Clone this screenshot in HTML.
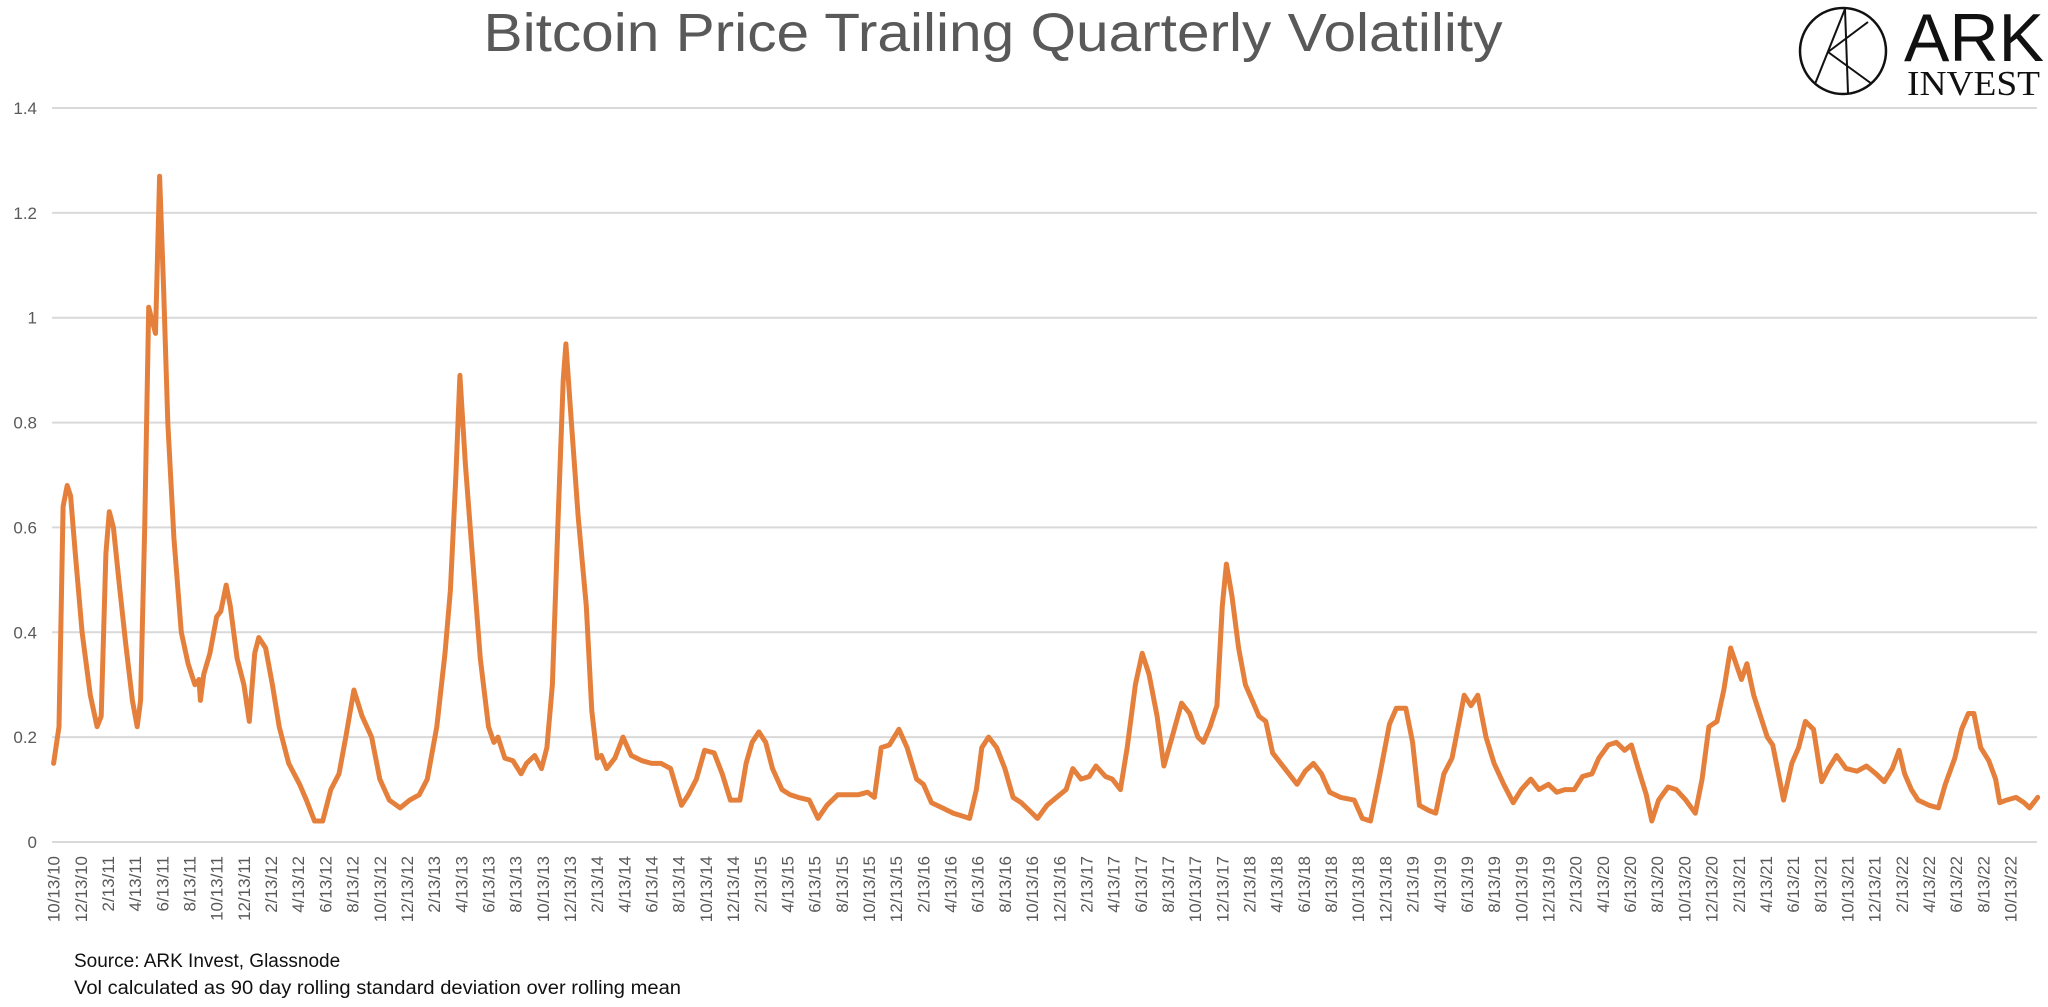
<!DOCTYPE html>
<html>
<head>
<meta charset="utf-8">
<style>
  html,body{margin:0;padding:0;background:#fff;}
  svg{display:block;}
  text{font-family:"Liberation Sans",sans-serif;}
</style>
</head>
<body>
<svg id="chart" width="2048" height="1007" viewBox="0 0 2048 1007" xmlns="http://www.w3.org/2000/svg">
  <rect width="2048" height="1007" fill="#fff"/>
  <text x="993" y="51" text-anchor="middle" font-size="54" fill="#595959" textLength="1019" lengthAdjust="spacingAndGlyphs">Bitcoin Price Trailing Quarterly Volatility</text>
  <g>
    <circle cx="1843" cy="51" r="43" fill="none" stroke="#111" stroke-width="2.5"/>
    <line x1="1815" y1="84" x2="1845" y2="9" stroke="#111" stroke-width="2"/>
    <line x1="1845" y1="9" x2="1848" y2="93" stroke="#111" stroke-width="2"/>
    <line x1="1828" y1="52" x2="1872" y2="84" stroke="#111" stroke-width="2"/>
    <line x1="1828" y1="52" x2="1868" y2="22" stroke="#111" stroke-width="2"/>
    <text x="1904" y="61" font-size="68" fill="#111" textLength="140" lengthAdjust="spacingAndGlyphs">ARK</text>
    <text x="1907" y="95" font-size="35" fill="#111" style="font-family:'Liberation Serif',serif" textLength="133" lengthAdjust="spacingAndGlyphs">INVEST</text>
  </g>
  <g id="grid"></g>
  <g id="yticks"></g>
  <g id="xticks"></g>
  <g id="series"></g>
  <text x="74" y="967" font-size="19" fill="#111">Source: ARK Invest, Glassnode</text>
  <text x="74" y="994" font-size="19" fill="#111" textLength="607" lengthAdjust="spacingAndGlyphs">Vol calculated as 90 day rolling standard deviation over rolling mean</text>
</svg>
<script>
// months since 10/13/2010
const monthOffsets = [0,0.4,0.7,1.0,1.25,1.6,2.1,2.7,3.2,3.5,3.85,4.1,4.4,4.8,5.3,5.8,6.15,6.4,6.7,7.0,7.2,7.5,7.8,8.1,8.4,8.85,9.4,9.9,10.4,10.7,10.8,11.05,11.5,12.0,12.3,12.7,13.0,13.5,14.0,14.4,14.8,15.1,15.6,16.1,16.6,17.3,18.1,18.6,19.2,19.8,20.4,21.0,21.5,22.1,22.7,23.4,24.0,24.7,25.5,26.2,26.9,27.5,28.2,28.8,29.2,29.6,29.9,30.3,30.8,31.4,32.0,32.4,32.7,33.2,33.8,34.4,34.8,35.4,35.9,36.3,36.7,37.1,37.5,37.7,38.1,38.6,39.2,39.6,40.0,40.3,40.7,41.3,41.9,42.5,43.3,44.0,44.7,45.4,46.2,46.7,47.3,47.9,48.6,49.2,49.8,50.5,50.96,51.4,51.9,52.4,52.9,53.6,54.2,54.8,55.6,56.25,56.9,57.7,58.5,59.2,59.9,60.4,60.9,61.5,62.2,62.8,63.5,64.0,64.6,65.4,66.2,66.8,67.4,67.9,68.3,68.8,69.4,70.0,70.6,71.2,71.8,72.4,73.1,73.8,74.5,75.0,75.6,76.2,76.7,77.4,77.9,78.5,79.0,79.6,80.1,80.6,81.2,81.7,82.3,83.0,83.6,84.2,84.6,85.1,85.6,86.0,86.3,86.7,87.2,87.7,88.2,88.7,89.2,89.7,90.3,90.9,91.5,92.1,92.7,93.3,93.9,94.7,95.7,96.3,96.9,97.6,98.3,98.8,99.5,100.0,100.5,101.2,101.7,102.3,102.9,103.5,103.8,104.3,104.8,105.4,106.0,106.7,107.4,108.0,108.7,109.3,110.0,110.6,111.2,111.9,112.5,113.2,113.7,114.4,115.0,115.6,116.1,116.6,117.2,117.6,118.1,118.8,119.4,120.1,120.8,121.3,121.8,122.4,122.9,123.4,123.8,124.2,124.6,125.1,125.6,126.1,126.5,127.0,127.3,127.9,128.4,128.9,129.5,130.1,130.6,131.2,131.9,132.7,133.4,134.1,134.7,135.3,135.8,136.2,136.7,137.2,138.0,138.7,139.2,139.9,140.4,140.9,141.3,141.8,142.4,142.9,143.2,143.7,144.4,145.0,145.4,146.0];
const volValues = [0.15,0.22,0.64,0.68,0.66,0.55,0.40,0.28,0.22,0.24,0.55,0.63,0.60,0.50,0.38,0.27,0.22,0.27,0.60,1.02,1.00,0.97,1.27,1.05,0.80,0.58,0.40,0.34,0.30,0.31,0.27,0.32,0.36,0.43,0.44,0.49,0.45,0.35,0.30,0.23,0.36,0.39,0.37,0.30,0.22,0.15,0.11,0.08,0.04,0.04,0.10,0.13,0.20,0.29,0.24,0.20,0.12,0.08,0.065,0.08,0.09,0.12,0.22,0.36,0.48,0.70,0.89,0.72,0.55,0.35,0.22,0.19,0.20,0.16,0.155,0.13,0.15,0.165,0.14,0.18,0.30,0.60,0.88,0.95,0.80,0.62,0.45,0.25,0.16,0.165,0.14,0.16,0.20,0.165,0.155,0.15,0.15,0.14,0.07,0.09,0.12,0.175,0.17,0.13,0.08,0.08,0.15,0.19,0.21,0.19,0.14,0.10,0.09,0.085,0.08,0.045,0.07,0.09,0.09,0.09,0.095,0.085,0.18,0.185,0.215,0.18,0.12,0.11,0.075,0.065,0.055,0.05,0.045,0.10,0.18,0.20,0.18,0.14,0.085,0.075,0.06,0.045,0.07,0.085,0.10,0.14,0.12,0.125,0.145,0.125,0.12,0.10,0.18,0.30,0.36,0.32,0.24,0.145,0.20,0.265,0.245,0.20,0.19,0.22,0.26,0.45,0.53,0.47,0.37,0.30,0.27,0.24,0.23,0.17,0.15,0.13,0.11,0.135,0.15,0.13,0.095,0.085,0.08,0.045,0.04,0.13,0.225,0.255,0.255,0.19,0.07,0.06,0.055,0.13,0.16,0.24,0.28,0.26,0.28,0.20,0.15,0.11,0.075,0.10,0.12,0.10,0.11,0.095,0.10,0.10,0.125,0.13,0.16,0.185,0.19,0.175,0.185,0.14,0.09,0.04,0.08,0.105,0.10,0.08,0.055,0.12,0.22,0.23,0.29,0.37,0.34,0.31,0.34,0.28,0.24,0.20,0.185,0.12,0.08,0.15,0.18,0.23,0.215,0.115,0.14,0.165,0.14,0.135,0.145,0.13,0.115,0.14,0.175,0.13,0.10,0.08,0.07,0.065,0.11,0.16,0.215,0.245,0.245,0.18,0.155,0.12,0.075,0.08,0.085,0.075,0.065,0.085];
const yTickValues = [0,0.2,0.4,0.6,0.8,1,1.2,1.4];
const yTickLabels = ["0","0.2","0.4","0.6","0.8","1","1.2","1.4"];
const xTickLabels = [];
(function(){
  let mo=10, yr=10;
  for(let i=0;i<73;i++){ xTickLabels.push(mo+"/13/"+yr); mo+=2; if(mo>12){mo-=12;yr++;} }
})();

const NS="http://www.w3.org/2000/svg";
const plotLeft=52, plotRight=2037, yZero=842, yTop=108, yMax=1.4;
const x0=53.6, pxPerMonth=13.59;
function xScale(m){ return x0 + m*pxPerMonth; }
function yScale(v){ return yZero - (v/yMax)*(yZero-yTop); }

const grid=document.getElementById('grid');
const yt=document.getElementById('yticks');
yTickValues.forEach((v,i)=>{
  const l=document.createElementNS(NS,'line');
  
  
  l.setAttribute('x1',plotLeft); l.setAttribute('x2',plotRight);
  l.setAttribute('y1',yScale(v)); l.setAttribute('y2',yScale(v));
  l.setAttribute('stroke','#d9d9d9'); l.setAttribute('stroke-width','2');
  grid.appendChild(l);
  const t=document.createElementNS(NS,'text');
  
  
  t.setAttribute('x',37); t.setAttribute('y',yScale(v)+6);
  t.setAttribute('text-anchor','end'); t.setAttribute('font-size','17'); t.setAttribute('fill','#595959');
  t.textContent=yTickLabels[i];
  yt.appendChild(t);
});
const xt=document.getElementById('xticks');
xTickLabels.forEach((lab,i)=>{
  const t=document.createElementNS(NS,'text');
  
  
  const x=xScale(i*2)+6, y=856;
  t.setAttribute('x',x); t.setAttribute('y',y);
  t.setAttribute('text-anchor','end'); t.setAttribute('font-size','17'); t.setAttribute('fill','#595959');
  t.setAttribute('transform','rotate(-90 '+x+' '+y+')');
  t.textContent=lab;
  xt.appendChild(t);
});
const pts=monthOffsets.map((m,i)=>xScale(m).toFixed(1)+','+yScale(volValues[i]).toFixed(1)).join(' ');
const pl=document.createElementNS(NS,'polyline');


pl.setAttribute('points',pts);
pl.setAttribute('fill','none'); pl.setAttribute('stroke','#e5803c');
pl.setAttribute('stroke-width','5'); pl.setAttribute('stroke-linejoin','round'); pl.setAttribute('stroke-linecap','round');
document.getElementById('series').appendChild(pl);
</script>
</body>
</html>
